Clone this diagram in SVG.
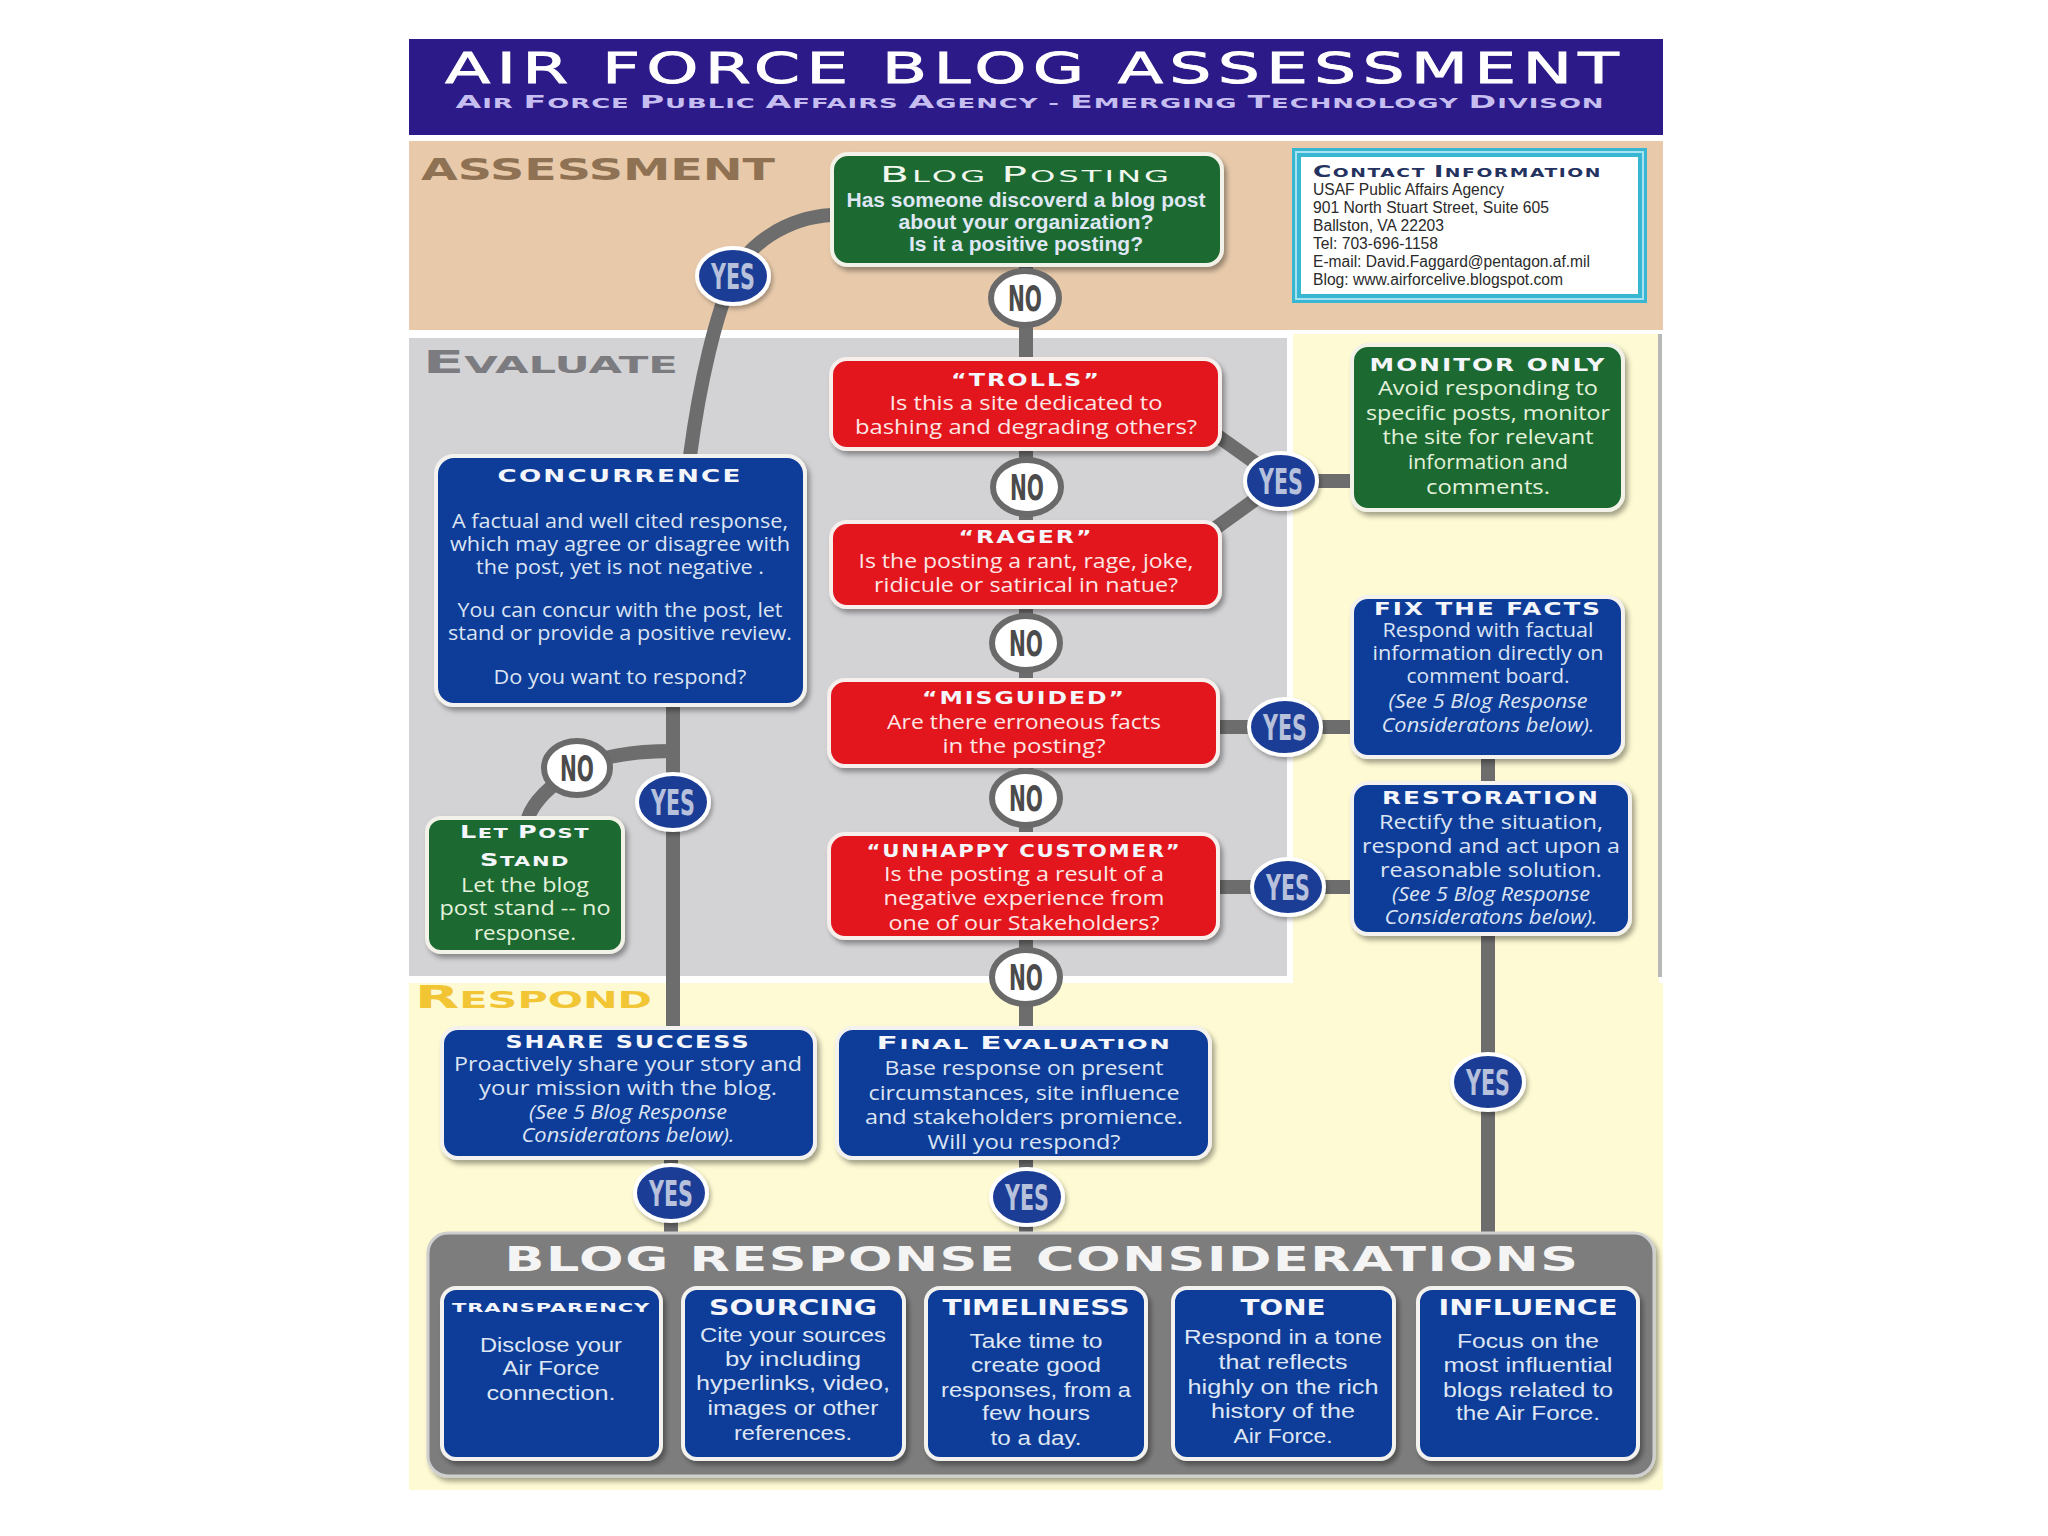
<svg xmlns="http://www.w3.org/2000/svg" width="2048" height="1536" viewBox="0 0 2048 1536">
<defs>
<style>
.ttl{font-family:"DejaVu Sans",sans-serif;font-weight:bold;font-size:18px;letter-spacing:1.5px;text-anchor:middle;fill:#f4f6fb}
.sc{font-family:"DejaVu Sans",sans-serif;font-weight:bold;font-size:14px;letter-spacing:1px;text-anchor:middle;fill:#f4f6fb}
.bd{font-family:"Open Sans",sans-serif;font-size:20px;text-anchor:middle}
.it{font-style:italic}
.cd{font-family:"Liberation Sans",sans-serif;font-size:20px;text-anchor:middle;fill:#dfe6f4}
.red .bd{fill:#fde6e6}
.blue .bd{fill:#dce4f4}
.green .bd{fill:#e4f2dc}
.nred{fill:#e2131f;stroke:#f6efec;stroke-width:4}
.nblue{fill:#0e3c98;stroke:#f4f2ee;stroke-width:4}
.ngreen{fill:#1e6a30;stroke:#f2f2e8;stroke-width:4}
.conn{fill:none;stroke:#6d6d6d;stroke-width:14}
.yes ellipse{fill:#1a3e96;stroke:#ffffff;stroke-width:4}
.yes text{font-family:"DejaVu Sans",sans-serif;font-weight:bold;font-size:36px;text-anchor:middle;fill:#b7c1db}
.no ellipse{fill:#ffffff;stroke:#6a6a6a;stroke-width:6}
.no text{font-family:"DejaVu Sans",sans-serif;font-weight:bold;font-size:36px;text-anchor:middle;fill:#4b4b4b}
.lbl{font-family:"DejaVu Sans",sans-serif;font-weight:bold}
.ct{font-family:"Liberation Sans",sans-serif;font-size:16px;fill:#2a2a2a}
</style>
<filter id="sh" x="-10%" y="-10%" width="125%" height="135%">
<feDropShadow dx="3" dy="4" stdDeviation="2.5" flood-color="#000" flood-opacity="0.35"/>
</filter>
<filter id="bsh" x="-20%" y="-20%" width="150%" height="150%">
<feDropShadow dx="2" dy="3" stdDeviation="2" flood-color="#000" flood-opacity="0.3"/>
</filter>
</defs>
<rect width="2048" height="1536" fill="#ffffff"/>

<g id="background">
<rect x="409" y="141" width="1254" height="189" fill="#e8caab"/>
<rect x="1293" y="334" width="366" height="650" fill="#fefad3"/>
<rect x="409" y="983" width="1254" height="507" fill="#fefad3"/>
<rect x="409" y="338" width="878" height="638" fill="#d3d3d6"/>
<rect x="1658" y="334" width="4" height="643" fill="#b8b8b8"/>
</g>

<g id="header">
<rect x="409" y="39" width="1254" height="96" fill="#2b1a88"/>
<text x="1035" y="83" font-family="DejaVu Sans, sans-serif" font-size="43" fill="#ffffff" stroke="#ffffff" stroke-width="0.8" letter-spacing="4" text-anchor="middle" textLength="1180" lengthAdjust="spacingAndGlyphs">AIR FORCE BLOG ASSESSMENT</text>
<text x="1030" y="108" font-family="DejaVu Sans, sans-serif" font-weight="bold" font-size="14" fill="#c6bef0" letter-spacing="0.5" text-anchor="middle" textLength="1149" lengthAdjust="spacingAndGlyphs"><tspan font-size="18">A</tspan>IR <tspan font-size="18">F</tspan>ORCE <tspan font-size="18">P</tspan>UBLIC <tspan font-size="18">A</tspan>FFAIRS <tspan font-size="18">A</tspan>GENCY - <tspan font-size="18">E</tspan>MERGING <tspan font-size="18">T</tspan>ECHNOLOGY <tspan font-size="18">D</tspan>IVISON</text>
</g>

<g id="section-labels">
<text class="lbl" x="421" y="180" font-size="30" fill="#8e7253" textLength="354" lengthAdjust="spacingAndGlyphs">ASSESSMENT</text>
<text class="lbl" x="423" y="373" font-size="23" fill="#7b7b80" textLength="255" lengthAdjust="spacingAndGlyphs"><tspan font-size="32">E</tspan>VALUATE</text>
<text class="lbl" x="415" y="1008" font-size="23" fill="#f2c535" textLength="237" lengthAdjust="spacingAndGlyphs"><tspan font-size="32">R</tspan>ESPOND</text>
</g>

<g id="connectors">
<path class="conn" d="M 831 215 C 785 218 748 245 733 276 C 716 315 700 380 690 456"/>
<path class="conn" d="M 1026 265 V 359 M 1026 449 V 522 M 1026 607 V 680 M 1026 766 V 834 M 1026 938 V 1028 M 1026 1158 V 1233"/>
<path class="conn" d="M 1212 432 L 1281 481 L 1210 532 M 1281 481 H 1352"/>
<path class="conn" d="M 1217 727 H 1352 M 1217 887 H 1352"/>
<path class="conn" d="M 1488 757 V 783 M 1488 934 V 1233"/>
<path class="conn" d="M 673 705 V 1028 M 671 1157 V 1233"/>
<path class="conn" d="M 673 751 C 640 751 605 754 578 768 C 555 782 534 800 528 818"/>
</g>

<g id="contact-information">
<rect x="1292" y="148" width="355" height="155" fill="#38b6d2"/>
<rect x="1296" y="152" width="347" height="147" fill="none" stroke="#a6e3f0" stroke-width="2"/>
<rect x="1301" y="157" width="337" height="137" fill="#ffffff"/>
<text x="1313" y="177" font-family="DejaVu Sans, sans-serif" font-weight="bold" font-size="12" fill="#243260" letter-spacing="1" textLength="289" lengthAdjust="spacingAndGlyphs"><tspan font-size="16">C</tspan>ONTACT <tspan font-size="16">I</tspan>NFORMATION</text>
<text class="ct" x="1313" y="195" textLength="191" lengthAdjust="spacingAndGlyphs">USAF Public Affairs Agency</text>
<text class="ct" x="1313" y="213" textLength="236" lengthAdjust="spacingAndGlyphs">901 North Stuart Street, Suite 605</text>
<text class="ct" x="1313" y="231" textLength="131" lengthAdjust="spacingAndGlyphs">Ballston, VA 22203</text>
<text class="ct" x="1313" y="249" textLength="125" lengthAdjust="spacingAndGlyphs">Tel: 703-696-1158</text>
<text class="ct" x="1313" y="267" textLength="277" lengthAdjust="spacingAndGlyphs">E-mail: David.Faggard@pentagon.af.mil</text>
<text class="ct" x="1313" y="285" textLength="250" lengthAdjust="spacingAndGlyphs">Blog: www.airforcelive.blogspot.com</text>
</g>

<g id="node-blog-posting" class="green">
<rect class="ngreen" x="832" y="154" width="390" height="111" rx="16" filter="url(#sh)"/>
<text x="1026" y="182" font-family="DejaVu Sans, sans-serif" font-size="16" letter-spacing="1.5" fill="#f2f8ee" text-anchor="middle" textLength="292" lengthAdjust="spacingAndGlyphs"><tspan font-size="21">B</tspan>LOG <tspan font-size="21">P</tspan>OSTING</text>
<text class="cd" x="1026" y="207" font-weight="bold" fill="#dcebd0" textLength="359" lengthAdjust="spacingAndGlyphs">Has someone discoverd a blog post</text>
<text class="cd" x="1026" y="229" font-weight="bold" fill="#dcebd0" textLength="255" lengthAdjust="spacingAndGlyphs">about your organization?</text>
<text class="cd" x="1026" y="251" font-weight="bold" fill="#dcebd0" textLength="234" lengthAdjust="spacingAndGlyphs">Is it a positive posting?</text>
</g>

<g id="node-trolls" class="red">
<rect class="nred" x="831" y="359" width="389" height="90" rx="16" filter="url(#sh)"/>
<text class="ttl" x="1026" y="386" textLength="150" lengthAdjust="spacingAndGlyphs">“TROLLS”</text>
<text class="bd" x="1026" y="410" textLength="273" lengthAdjust="spacingAndGlyphs">Is this a site dedicated to</text>
<text class="bd" x="1026" y="434" textLength="342" lengthAdjust="spacingAndGlyphs">bashing and degrading others?</text>
</g>

<g id="node-rager" class="red">
<rect class="nred" x="831" y="522" width="389" height="85" rx="16" filter="url(#sh)"/>
<text class="ttl" x="1026" y="543" textLength="135" lengthAdjust="spacingAndGlyphs">“RAGER”</text>
<text class="bd" x="1026" y="568" textLength="335" lengthAdjust="spacingAndGlyphs">Is the posting a rant, rage, joke,</text>
<text class="bd" x="1026" y="592" textLength="304" lengthAdjust="spacingAndGlyphs">ridicule or satirical in natue?</text>
</g>

<g id="node-misguided" class="red">
<rect class="nred" x="829" y="680" width="389" height="86" rx="16" filter="url(#sh)"/>
<text class="ttl" x="1024" y="704" textLength="204" lengthAdjust="spacingAndGlyphs">“MISGUIDED”</text>
<text class="bd" x="1024" y="729" textLength="274" lengthAdjust="spacingAndGlyphs">Are there erroneous facts</text>
<text class="bd" x="1024" y="753" textLength="163" lengthAdjust="spacingAndGlyphs">in the posting?</text>
</g>

<g id="node-unhappy-customer" class="red">
<rect class="nred" x="829" y="834" width="389" height="104" rx="16" filter="url(#sh)"/>
<text class="ttl" x="1024" y="857" textLength="315" lengthAdjust="spacingAndGlyphs">“UNHAPPY CUSTOMER”</text>
<text class="bd" x="1024" y="881" textLength="280" lengthAdjust="spacingAndGlyphs">Is the posting a result of a</text>
<text class="bd" x="1024" y="905" textLength="281" lengthAdjust="spacingAndGlyphs">negative experience from</text>
<text class="bd" x="1024" y="930" textLength="271" lengthAdjust="spacingAndGlyphs">one of our Stakeholders?</text>
</g>

<g id="node-monitor-only" class="green">
<rect class="ngreen" x="1352" y="345" width="271" height="165" rx="16" filter="url(#sh)"/>
<text class="ttl" x="1488" y="371" textLength="237" lengthAdjust="spacingAndGlyphs">MONITOR ONLY</text>
<text class="bd" x="1488" y="395" textLength="220" lengthAdjust="spacingAndGlyphs">Avoid responding to</text>
<text class="bd" x="1488" y="420" textLength="244" lengthAdjust="spacingAndGlyphs">specific posts, monitor</text>
<text class="bd" x="1488" y="444" textLength="211" lengthAdjust="spacingAndGlyphs">the site for relevant</text>
<text class="bd" x="1488" y="469" textLength="160" lengthAdjust="spacingAndGlyphs">information and</text>
<text class="bd" x="1488" y="494" textLength="124" lengthAdjust="spacingAndGlyphs">comments.</text>
</g>

<g id="node-fix-the-facts" class="blue">
<rect class="nblue" x="1352" y="597" width="271" height="160" rx="16" filter="url(#sh)"/>
<text class="ttl" x="1488" y="615" textLength="228" lengthAdjust="spacingAndGlyphs">FIX THE FACTS</text>
<text class="bd" x="1488" y="637" textLength="211" lengthAdjust="spacingAndGlyphs">Respond with factual</text>
<text class="bd" x="1488" y="660" textLength="231" lengthAdjust="spacingAndGlyphs">information directly on</text>
<text class="bd" x="1488" y="683" textLength="163" lengthAdjust="spacingAndGlyphs">comment board.</text>
<text class="bd it" x="1488" y="708" textLength="199" lengthAdjust="spacingAndGlyphs">(See 5 Blog Response</text>
<text class="bd it" x="1488" y="732" textLength="213" lengthAdjust="spacingAndGlyphs">Consideratons below).</text>
</g>

<g id="node-restoration" class="blue">
<rect class="nblue" x="1352" y="783" width="278" height="151" rx="16" filter="url(#sh)"/>
<text class="ttl" x="1491" y="804" textLength="218" lengthAdjust="spacingAndGlyphs">RESTORATION</text>
<text class="bd" x="1491" y="829" textLength="224" lengthAdjust="spacingAndGlyphs">Rectify the situation,</text>
<text class="bd" x="1491" y="853" textLength="258" lengthAdjust="spacingAndGlyphs">respond and act upon a</text>
<text class="bd" x="1491" y="877" textLength="222" lengthAdjust="spacingAndGlyphs">reasonable solution.</text>
<text class="bd it" x="1491" y="901" textLength="198" lengthAdjust="spacingAndGlyphs">(See 5 Blog Response</text>
<text class="bd it" x="1491" y="924" textLength="213" lengthAdjust="spacingAndGlyphs">Consideratons below).</text>
</g>

<g id="node-concurrence" class="blue">
<rect class="nblue" x="436" y="456" width="369" height="249" rx="18" filter="url(#sh)"/>
<text class="ttl" x="620" y="482" textLength="245" lengthAdjust="spacingAndGlyphs">CONCURRENCE</text>
<text class="bd" x="620" y="528" textLength="336" lengthAdjust="spacingAndGlyphs">A factual and well cited response,</text>
<text class="bd" x="620" y="551" textLength="340" lengthAdjust="spacingAndGlyphs">which may agree or disagree with</text>
<text class="bd" x="620" y="574" textLength="288" lengthAdjust="spacingAndGlyphs">the post, yet is not negative .</text>
<text class="bd" x="620" y="617" textLength="325" lengthAdjust="spacingAndGlyphs">You can concur with the post, let</text>
<text class="bd" x="620" y="640" textLength="344" lengthAdjust="spacingAndGlyphs">stand or provide a positive review.</text>
<text class="bd" x="620" y="684" textLength="253" lengthAdjust="spacingAndGlyphs">Do you want to respond?</text>
</g>

<g id="node-let-post-stand" class="green">
<rect class="ngreen" x="427" y="818" width="196" height="134" rx="14" filter="url(#sh)"/>
<text class="sc" x="525" y="838" font-size="13" textLength="130" lengthAdjust="spacingAndGlyphs"><tspan font-size="17">L</tspan>ET <tspan font-size="17">P</tspan>OST</text>
<text class="sc" x="525" y="866" font-size="13" textLength="90" lengthAdjust="spacingAndGlyphs"><tspan font-size="17">S</tspan>TAND</text>
<text class="bd" x="525" y="892" textLength="128" lengthAdjust="spacingAndGlyphs">Let the blog</text>
<text class="bd" x="525" y="915" textLength="171" lengthAdjust="spacingAndGlyphs">post stand -- no</text>
<text class="bd" x="525" y="940" textLength="102" lengthAdjust="spacingAndGlyphs">response.</text>
</g>

<g id="node-share-success" class="blue">
<rect class="nblue" x="442" y="1028" width="373" height="130" rx="16" filter="url(#sh)"/>
<text class="ttl" x="628" y="1048" textLength="245" lengthAdjust="spacingAndGlyphs">SHARE SUCCESS</text>
<text class="bd" x="628" y="1071" textLength="348" lengthAdjust="spacingAndGlyphs">Proactively share your story and</text>
<text class="bd" x="628" y="1095" textLength="298" lengthAdjust="spacingAndGlyphs">your mission with the blog.</text>
<text class="bd it" x="628" y="1119" textLength="198" lengthAdjust="spacingAndGlyphs">(See 5 Blog Response</text>
<text class="bd it" x="628" y="1142" textLength="213" lengthAdjust="spacingAndGlyphs">Consideratons below).</text>
</g>

<g id="node-final-evaluation" class="blue">
<rect class="nblue" x="837" y="1028" width="373" height="130" rx="16" filter="url(#sh)"/>
<text class="sc" x="1024" y="1049" textLength="295" lengthAdjust="spacingAndGlyphs"><tspan font-size="18">F</tspan>INAL <tspan font-size="18">E</tspan>VALUATION</text>
<text class="bd" x="1024" y="1075" textLength="279" lengthAdjust="spacingAndGlyphs">Base response on present</text>
<text class="bd" x="1024" y="1100" textLength="311" lengthAdjust="spacingAndGlyphs">circumstances, site influence</text>
<text class="bd" x="1024" y="1124" textLength="318" lengthAdjust="spacingAndGlyphs">and stakeholders promience.</text>
<text class="bd" x="1024" y="1149" textLength="193" lengthAdjust="spacingAndGlyphs">Will you respond?</text>
</g>

<g id="connector-labels">
<g class="yes"><ellipse cx="733" cy="276" rx="36" ry="28" filter="url(#bsh)"/><text x="733" y="289" textLength="44" lengthAdjust="spacingAndGlyphs">YES</text></g>
<g class="yes"><ellipse cx="1281" cy="481" rx="36" ry="28" filter="url(#bsh)"/><text x="1281" y="494" textLength="44" lengthAdjust="spacingAndGlyphs">YES</text></g>
<g class="yes"><ellipse cx="1285" cy="727" rx="36" ry="28" filter="url(#bsh)"/><text x="1285" y="740" textLength="44" lengthAdjust="spacingAndGlyphs">YES</text></g>
<g class="yes"><ellipse cx="1288" cy="887" rx="36" ry="28" filter="url(#bsh)"/><text x="1288" y="900" textLength="44" lengthAdjust="spacingAndGlyphs">YES</text></g>
<g class="yes"><ellipse cx="1488" cy="1082" rx="36" ry="28" filter="url(#bsh)"/><text x="1488" y="1095" textLength="44" lengthAdjust="spacingAndGlyphs">YES</text></g>
<g class="yes"><ellipse cx="673" cy="802" rx="36" ry="28" filter="url(#bsh)"/><text x="673" y="815" textLength="44" lengthAdjust="spacingAndGlyphs">YES</text></g>
<g class="yes"><ellipse cx="671" cy="1193" rx="36" ry="28" filter="url(#bsh)"/><text x="671" y="1206" textLength="44" lengthAdjust="spacingAndGlyphs">YES</text></g>
<g class="yes"><ellipse cx="1027" cy="1197" rx="36" ry="28" filter="url(#bsh)"/><text x="1027" y="1210" textLength="44" lengthAdjust="spacingAndGlyphs">YES</text></g>
<g class="no"><ellipse cx="1025" cy="298" rx="34" ry="27"/><text x="1025" y="311" textLength="34" lengthAdjust="spacingAndGlyphs">NO</text></g>
<g class="no"><ellipse cx="1027" cy="487" rx="34" ry="27"/><text x="1027" y="500" textLength="34" lengthAdjust="spacingAndGlyphs">NO</text></g>
<g class="no"><ellipse cx="1026" cy="643" rx="34" ry="27"/><text x="1026" y="656" textLength="34" lengthAdjust="spacingAndGlyphs">NO</text></g>
<g class="no"><ellipse cx="1026" cy="798" rx="34" ry="27"/><text x="1026" y="811" textLength="34" lengthAdjust="spacingAndGlyphs">NO</text></g>
<g class="no"><ellipse cx="1026" cy="977" rx="34" ry="27"/><text x="1026" y="990" textLength="34" lengthAdjust="spacingAndGlyphs">NO</text></g>
<g class="no"><ellipse cx="577" cy="768" rx="33" ry="27"/><text x="577" y="781" textLength="34" lengthAdjust="spacingAndGlyphs">NO</text></g>
</g>

<g id="blog-response-considerations">
<rect x="428" y="1233" width="1226" height="243" rx="20" fill="#7d7d7d" stroke="#cfcfcf" stroke-width="3" filter="url(#sh)"/>
<text x="1042" y="1271" font-family="DejaVu Sans, sans-serif" font-weight="bold" font-size="33" letter-spacing="1" fill="#f4f4f4" text-anchor="middle" textLength="1075" lengthAdjust="spacingAndGlyphs">BLOG RESPONSE CONSIDERATIONS</text>
<g id="brc-transparency">
<rect class="nblue" x="442" y="1288" width="219" height="171" rx="14" filter="url(#sh)"/>
<text x="551" y="1312" font-family="DejaVu Sans, sans-serif" font-weight="bold" font-size="13" letter-spacing="0.5" fill="#f4f6fb" text-anchor="middle" textLength="198" lengthAdjust="spacingAndGlyphs">TRANSPARENCY</text>
<text class="cd" x="551" y="1352" textLength="142" lengthAdjust="spacingAndGlyphs">Disclose your</text>
<text class="cd" x="551" y="1375" textLength="97" lengthAdjust="spacingAndGlyphs">Air Force</text>
<text class="cd" x="551" y="1400" textLength="129" lengthAdjust="spacingAndGlyphs">connection.</text>
</g>
<g id="brc-sourcing">
<rect class="nblue" x="683" y="1288" width="221" height="171" rx="14" filter="url(#sh)"/>
<text x="793" y="1315" font-family="DejaVu Sans, sans-serif" font-weight="bold" font-size="21" fill="#f4f6fb" text-anchor="middle" textLength="168" lengthAdjust="spacingAndGlyphs">SOURCING</text>
<text class="cd" x="793" y="1342" textLength="186" lengthAdjust="spacingAndGlyphs">Cite your sources</text>
<text class="cd" x="793" y="1366" textLength="136" lengthAdjust="spacingAndGlyphs">by including</text>
<text class="cd" x="793" y="1390" textLength="194" lengthAdjust="spacingAndGlyphs">hyperlinks, video,</text>
<text class="cd" x="793" y="1415" textLength="171" lengthAdjust="spacingAndGlyphs">images or other</text>
<text class="cd" x="793" y="1440" textLength="118" lengthAdjust="spacingAndGlyphs">references.</text>
</g>
<g id="brc-timeliness">
<rect class="nblue" x="926" y="1288" width="220" height="171" rx="14" filter="url(#sh)"/>
<text x="1036" y="1315" font-family="DejaVu Sans, sans-serif" font-weight="bold" font-size="21" fill="#f4f6fb" text-anchor="middle" textLength="187" lengthAdjust="spacingAndGlyphs">TIMELINESS</text>
<text class="cd" x="1036" y="1348" textLength="133" lengthAdjust="spacingAndGlyphs">Take time to</text>
<text class="cd" x="1036" y="1372" textLength="130" lengthAdjust="spacingAndGlyphs">create good</text>
<text class="cd" x="1036" y="1397" textLength="190" lengthAdjust="spacingAndGlyphs">responses, from a</text>
<text class="cd" x="1036" y="1420" textLength="108" lengthAdjust="spacingAndGlyphs">few hours</text>
<text class="cd" x="1036" y="1445" textLength="91" lengthAdjust="spacingAndGlyphs">to a day.</text>
</g>
<g id="brc-tone">
<rect class="nblue" x="1173" y="1288" width="221" height="171" rx="14" filter="url(#sh)"/>
<text x="1283" y="1315" font-family="DejaVu Sans, sans-serif" font-weight="bold" font-size="21" fill="#f4f6fb" text-anchor="middle" textLength="85" lengthAdjust="spacingAndGlyphs">TONE</text>
<text class="cd" x="1283" y="1344" textLength="198" lengthAdjust="spacingAndGlyphs">Respond in a tone</text>
<text class="cd" x="1283" y="1369" textLength="129" lengthAdjust="spacingAndGlyphs">that reflects</text>
<text class="cd" x="1283" y="1394" textLength="191" lengthAdjust="spacingAndGlyphs">highly on the rich</text>
<text class="cd" x="1283" y="1418" textLength="144" lengthAdjust="spacingAndGlyphs">history of the</text>
<text class="cd" x="1283" y="1443" textLength="99" lengthAdjust="spacingAndGlyphs">Air Force.</text>
</g>
<g id="brc-influence">
<rect class="nblue" x="1418" y="1288" width="220" height="171" rx="14" filter="url(#sh)"/>
<text x="1528" y="1315" font-family="DejaVu Sans, sans-serif" font-weight="bold" font-size="21" fill="#f4f6fb" text-anchor="middle" textLength="179" lengthAdjust="spacingAndGlyphs">INFLUENCE</text>
<text class="cd" x="1528" y="1348" textLength="142" lengthAdjust="spacingAndGlyphs">Focus on the</text>
<text class="cd" x="1528" y="1372" textLength="169" lengthAdjust="spacingAndGlyphs">most influential</text>
<text class="cd" x="1528" y="1397" textLength="170" lengthAdjust="spacingAndGlyphs">blogs related to</text>
<text class="cd" x="1528" y="1420" textLength="144" lengthAdjust="spacingAndGlyphs">the Air Force.</text>
</g>
</g>
</svg>
